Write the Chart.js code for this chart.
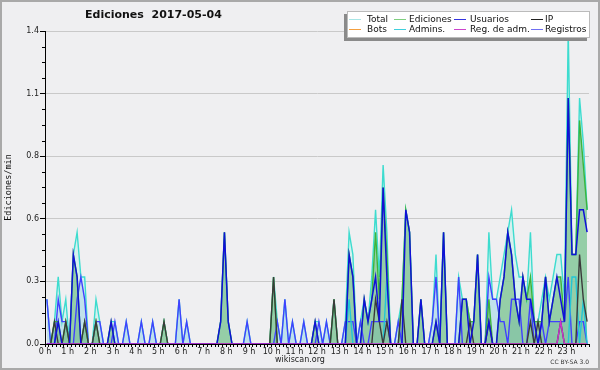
<!DOCTYPE html>
<html>
<head>
<meta charset="utf-8">
<script src="https://cdn.jsdelivr.net/npm/chart.js@4/dist/chart.umd.min.js"></script>
<style>
  html, body { margin: 0; padding: 0; background: #efeff1; }
  #wrap { position: relative; width: 600px; height: 370px; overflow: hidden; background: #efeff1; }
  #c { position: absolute; left: 0; top: 0; }
  #frame { position: absolute; left: 0; top: 0; width: 600px; height: 370px; box-sizing: border-box; border: 2px solid #a9a9a9; pointer-events: none; }
  .txt { position: absolute; font-family: "DejaVu Sans", sans-serif; color: #111; white-space: nowrap; }
  #title { left: 85px; top: 8px; font-size: 11px; font-weight: bold; }
  #site { left: 0; width: 600px; text-align: center; top: 355px; font-size: 8px; color: #222; }
  #lic { right: 11px; top: 358px; font-size: 6px; color: #333; }
  #legend { position: absolute; left: 347px; top: 11px; width: 243px; height: 27px; background: #fff; border: 1px solid #bbb; box-sizing: border-box; box-shadow: -3px 3px 0 #8a8a8a; }
  .lg { position: absolute; font-family: "DejaVu Sans", sans-serif; font-size: 9px; color: #111; white-space: nowrap; line-height: 9px; }
  .sw { position: absolute; height: 1px; width: 12px; }
</style>
</head>
<body>
<div id="wrap">
  <canvas id="c" width="600" height="370"></canvas>
  <div id="title" class="txt">Ediciones&nbsp;&nbsp;2017-05-04</div>
  <div id="site" class="txt">wikiscan.org</div>
  <div id="lic" class="txt">CC BY-SA 3.0</div>
  <div id="legend"></div>
  <div id="frame"></div>
</div>
<script>
// ---- DATA (edits per minute, 10-minute bins, 6 per hour) ----
const hourLabels = ["0 h","1 h","2 h","3 h","4 h","5 h","6 h","7 h","8 h","9 h","10 h","11 h","12 h","13 h","14 h","15 h","16 h","17 h","18 h","19 h","20 h","21 h","22 h","23 h"];
const yTickValues = [0, 0.28, 0.56, 0.84, 1.12, 1.4];

const total = [
 0.2,0,0.1,0.3,0.1,0.2,  0,0.4,0.5,0.3,0.3,0,  0,0.2,0.1,0,0,0.1,  0.1,0,0,0.1,0,0,
 0,0.1,0,0,0.1,0,  0,0.1,0,0,0,0.2,  0,0.1,0,0,0,0,  0,0,0,0,0.1,0.5,
 0.1,0,0,0,0,0.1,  0,0,0,0,0,0,  0.3,0.1,0,0.2,0,0.1,  0,0,0.1,0,0,0.1,
 0.1,0,0.1,0,0.2,0,  0,0.1,0.5,0.4,0,0.1,  0.2,0.1,0.3,0.6,0.3,0.8,  0.5,0,0,0.1,0.2,0.6,
 0.5,0,0,0.2,0,0,  0.1,0.4,0,0.5,0,0,  0,0.3,0.2,0.2,0.1,0.1,  0.4,0,0,0.5,0.2,0.2,
 0.3,0.4,0.5,0.6,0.4,0.3,  0.3,0.2,0.5,0.1,0.1,0.2,  0.3,0.2,0.3,0.4,0.4,0.2,  1.4,0.4,0.4,1.1,0.9,0.6
];
const ediciones = [
 0,0,0.1,0.1,0,0.1,  0,0.4,0.3,0,0.1,0,  0,0.1,0,0,0,0.1,  0,0,0,0,0,0,
 0,0,0,0,0,0,  0,0.1,0,0,0,0,  0,0,0,0,0,0,  0,0,0,0,0.1,0.5,
 0.1,0,0,0,0,0,  0,0,0,0,0,0,  0.3,0,0,0,0,0,  0,0,0,0,0,0.1,
 0,0,0,0,0.2,0,  0,0,0.4,0.3,0,0,  0.2,0.1,0.2,0.5,0.2,0.7,  0.4,0,0,0,0.2,0.6,
 0.5,0,0,0.2,0,0,  0,0.1,0,0.5,0,0,  0,0,0.2,0.2,0.1,0.1,  0.4,0,0,0.2,0,0,
 0.2,0.3,0.5,0.4,0.2,0.1,  0.3,0.2,0.3,0.1,0.1,0.1,  0.3,0.1,0.2,0.3,0.3,0.1,  1.1,0.4,0.4,1.0,0.8,0.6
];
const usuarios = [
 0,0,0,0.1,0,0,  0,0.4,0.3,0,0,0,  0,0,0,0,0,0.1,  0,0,0,0,0,0,
 0,0,0,0,0,0,  0,0,0,0,0,0,  0,0,0,0,0,0,  0,0,0,0,0.1,0.5,
 0.1,0,0,0,0,0,  0,0,0,0,0,0,  0,0,0,0,0,0,  0,0,0,0,0,0.1,
 0,0,0,0,0,0,  0,0,0.4,0.3,0,0,  0.2,0.1,0.2,0.3,0.1,0.7,  0.3,0,0,0,0,0.6,
 0.5,0,0,0.2,0,0,  0,0.1,0,0.5,0,0,  0,0,0.2,0.2,0,0.1,  0.4,0,0,0.1,0,0,
 0.2,0.3,0.5,0.4,0.2,0.1,  0.3,0.2,0.2,0.1,0,0.1,  0.3,0.1,0.2,0.3,0.2,0.1,  1.1,0.4,0.4,0.6,0.6,0.5
];
const ip = [
 0,0,0.1,0,0,0.1,  0,0,0,0,0.1,0,  0,0.1,0,0,0,0,  0,0,0,0,0,0,
 0,0,0,0,0,0,  0,0.1,0,0,0,0,  0,0,0,0,0,0,  0,0,0,0,0,0,
 0,0,0,0,0,0,  0,0,0,0,0,0,  0.3,0,0,0,0,0,  0,0,0,0,0,0,
 0,0,0,0,0.2,0,  0,0,0,0,0,0,  0,0,0,0.2,0.1,0,  0.1,0,0,0,0.2,0,
 0,0,0,0,0,0,  0,0,0,0,0,0,  0,0,0,0,0.1,0,  0,0,0,0.1,0,0,
 0,0,0,0,0,0,  0,0,0.1,0,0.1,0,  0,0,0,0,0.1,0,  0,0,0,0.4,0.2,0.1
];
const bots = [
 0,0,0,0,0,0,  0,0,0,0,0,0,  0,0,0,0,0,0,  0,0,0,0,0,0,
 0,0,0,0,0,0,  0,0,0,0,0,0,  0,0,0,0,0,0,  0,0,0,0,0,0,
 0,0,0,0,0,0,  0,0,0,0,0,0,  0,0,0,0,0,0,  0,0,0,0,0,0,
 0,0,0,0,0,0,  0,0,0,0,0,0,  0,0,0,0,0,0,  0,0,0,0,0,0,
 0,0,0,0,0,0,  0,0,0,0,0,0,  0,0,0,0,0,0,  0,0,0,0,0,0,
 0,0,0,0,0,0,  0,0,0,0,0,0,  0,0,0,0,0,0,  0,0,0,0,0,0
];
const admins = [
 0,0,0,0,0,0,  0,0,0,0,0,0,  0,0,0,0,0,0,  0,0,0,0,0,0,
 0,0,0,0,0,0,  0,0,0,0,0,0,  0,0,0,0,0,0,  0,0,0,0,0,0,
 0,0,0,0,0,0,  0,0,0,0,0,0,  0,0,0,0,0,0,  0,0,0,0,0,0,
 0,0,0,0,0,0,  0,0,0.2,0,0,0,  0,0,0,0,0,0,  0.3,0,0,0,0,0,
 0,0,0,0,0,0,  0,0,0,0,0,0,  0,0,0,0,0,0,  0,0,0,0,0,0,
 0,0,0,0,0,0,  0,0,0,0,0,0,  0,0,0,0,0,0,  0,0.3,0.3,0,0.2,0
];
const regAdm = [
 0,0,0,0,0,0,  0,0,0,0,0,0,  0,0,0,0,0,0,  0,0,0,0,0,0,
 0,0,0,0,0,0,  0,0,0,0,0,0,  0,0,0,0,0,0,  0,0,0,0,0,0,
 0,0,0,0,0,0,  0,0,0,0,0,0,  0,0,0,0,0,0,  0,0,0,0,0,0,
 0,0,0,0,0,0,  0,0,0,0,0,0,  0,0,0,0,0,0,  0,0,0,0,0,0,
 0,0,0,0,0,0,  0,0,0,0,0,0,  0,0,0,0,0,0,  0,0,0,0,0,0,
 0,0,0,0,0,0,  0,0,0,0,0,0,  0,0,0,0,0.1,0,  0,0,0,0,0,0
];
const registros = [
 0.2,0,0,0.2,0.1,0.1,  0,0,0.2,0.3,0.2,0,  0,0.1,0.1,0,0,0,  0.1,0,0,0.1,0,0,
 0,0.1,0,0,0.1,0,  0,0,0,0,0,0.2,  0,0.1,0,0,0,0,  0,0,0,0,0,0,
 0,0,0,0,0,0.1,  0,0,0,0,0,0,  0,0.1,0,0.2,0,0.1,  0,0,0.1,0,0,0,
 0.1,0,0.1,0,0,0,  0,0.1,0.1,0.1,0,0.1,  0,0,0.1,0.1,0.1,0.1,  0.1,0,0,0.1,0,0,
 0,0,0,0,0,0,  0.1,0.3,0,0,0,0,  0,0.3,0,0,0,0,  0,0,0,0.3,0.2,0.2,
 0.1,0.1,0,0.2,0.2,0.2,  0,0,0.2,0,0,0.1,  0,0.1,0.1,0.1,0.1,0.1,  0.3,0,0,0.1,0.1,0
];

// ---- LEGEND (HTML) ----
const legendItems = [
  ["Total", "#a8e6e6"], ["Ediciones", "#7fcf7f"], ["Usuarios", "#3434e0"], ["IP", "#222222"],
  ["Bots", "#f4a040"], ["Admins.", "#3fcfdc"], ["Reg. de adm.", "#cc44cc"], ["Registros", "#6f6ff2"]
];
const swX = [1, 46, 106, 183];
const txX = [19, 61, 122, 197];
const lg = document.getElementById('legend');
legendItems.forEach((it, k) => {
  const col = k % 4, row = Math.floor(k / 4);
  const sw = document.createElement('div');
  sw.className = 'sw';
  sw.style.left = swX[col] + 'px';
  sw.style.top = (row * 10 + 7) + 'px';
  sw.style.background = it[1];
  lg.appendChild(sw);
  const t = document.createElement('div');
  t.className = 'lg';
  t.style.left = txX[col] + 'px';
  t.style.top = (row * 10 + 3) + 'px';
  t.textContent = it[0];
  lg.appendChild(t);
});

// ---- CHART ----
const pts = arr => arr.map((v, i) => ({ x: i + 0.5, y: v }));
function ds(label, arr, color, order, fill, width) {
  return {
    label, data: pts(arr), borderColor: color, borderWidth: width || 1.4,
    pointRadius: 0, tension: 0, order,
    fill: fill ? 'origin' : false, backgroundColor: fill || 'transparent'
  };
}

const minorTicks = {
  id: 'minorTicks',
  afterDatasetsDraw(chart) {
    const ctx = chart.ctx, a = chart.chartArea, y = chart.scales.y;
    ctx.save();
    ctx.strokeStyle = '#000';
    ctx.lineWidth = 1;
    ctx.beginPath();
    ctx.moveTo(a.left, Math.round(a.bottom) + 0.5);
    ctx.lineTo(a.right, Math.round(a.bottom) + 0.5);
    ctx.stroke();
    ctx.beginPath();
    for (let k = 1; k < 20; k++) {
      if (k % 4 === 0) continue;
      const py = Math.round(y.getPixelForValue(k * 0.07)) + 0.5;
      ctx.moveTo(a.left - 3, py);
      ctx.lineTo(a.left, py);
    }
    ctx.stroke();
    ctx.restore();
  }
};

new Chart(document.getElementById('c'), {
  type: 'line',
  data: {
    datasets: [
      ds('Total', total, '#3ddccf', 8, 'rgba(205,240,238,0.75)', 1.4),
      ds('Registros', registros, '#4040ff', 7, 'rgba(150,195,225,0.35)', 1.4),
      ds('Ediciones', ediciones, '#3cb53c', 6, 'rgba(60,160,70,0.42)', 1.4),
      ds('Admins.', admins, '#22c6d6', 5, null, 1.4),
      ds('IP', ip, '#3a3a3a', 4, null, 1.4),
      ds('Usuarios', usuarios, '#1010d8', 3, null, 1.5),
      ds('Reg. de adm.', regAdm, '#cc33cc', 2, null, 1.4),
      ds('Bots', bots, '#ff9933', 9, null, 1.4)
    ]
  },
  options: {
    responsive: false,
    devicePixelRatio: 1,
    animation: false,
    events: [],
    layout: { padding: { left: 0, right: 11, top: 31, bottom: 0 } },
    plugins: {
      legend: { display: false },
      title: { display: false },
      tooltip: { enabled: false },
      filler: { drawTime: 'beforeDatasetsDraw' }
    },
    scales: {
      x: {
        type: 'linear', min: 0, max: 144,
        afterFit: s => { s.height = 26; },
        border: { color: '#000', width: 1 },
        grid: { drawOnChartArea: false, drawTicks: true, tickLength: 3, tickColor: '#000' },
        ticks: {
          stepSize: 1, autoSkip: false, maxRotation: 0, minRotation: 0, padding: 0,
          color: '#222', font: { family: 'DejaVu Sans', size: 8 },
          callback: v => (v % 6 === 0 && v / 6 < hourLabels.length) ? hourLabels[v / 6] : ''
        }
      },
      y: {
        type: 'linear', min: 0, max: 1.4,
        afterFit: s => { s.width = 45; },
        afterBuildTicks: s => { s.ticks = yTickValues.map(v => ({ value: v })); },
        border: { color: '#000', width: 1 },
        grid: { color: '#c9c9c9', tickColor: '#000', tickLength: 5, lineWidth: 1 },
        title: { display: true, text: 'Ediciones/min', color: '#111', font: { family: 'DejaVu Sans Mono', size: 8.5 }, padding: { top: 4, bottom: 0 } },
        ticks: {
          padding: 1, color: '#222', font: { family: 'DejaVu Sans', size: 8 },
          callback: v => Number(v).toFixed(1)
        }
      }
    }
  },
  plugins: [minorTicks]
});
</script>
</body>
</html>
